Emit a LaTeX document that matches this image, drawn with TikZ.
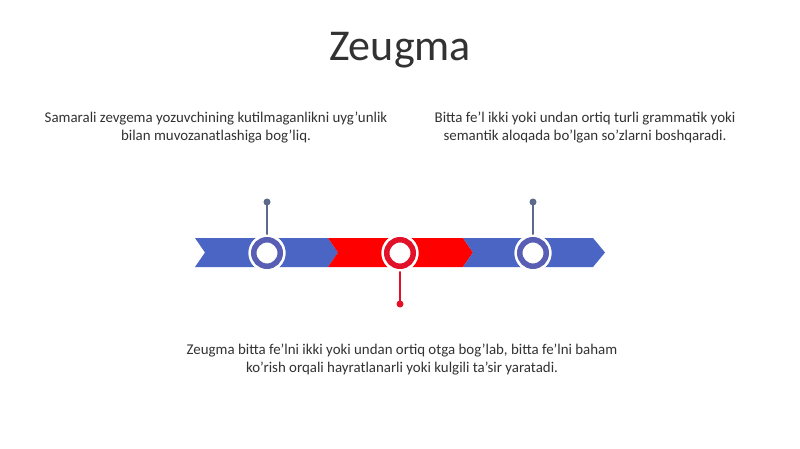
\documentclass[tikz,border=0pt]{standalone}
\usepackage{fontspec}
\setmainfont{Carlito}
\definecolor{bandblue}{RGB}{74,101,196}
\definecolor{ringblue}{RGB}{88,94,180}
\definecolor{pinblue}{RGB}{92,106,140}
\definecolor{bandred}{RGB}{255,0,0}
\definecolor{ringred}{RGB}{226,16,40}
\definecolor{txt}{RGB}{50,50,50}
\begin{document}
\begin{tikzpicture}[x=1pt,y=-1pt,
  halo/.style={circle,fill=white,minimum size=37pt,inner sep=0pt},
  ringnode/.style={circle,draw=#1,line width=5.5pt,fill=white,minimum size=26.5pt,inner sep=0pt},
  pindot/.style={circle,fill=#1,minimum size=7pt,inner sep=0pt},
  pinline/.style={draw=#1,line width=1.2pt},
  bodytext/.style={align=center,inner sep=0pt,text=txt,font=\fontsize{14.9}{18}\selectfont},
  titletext/.style={inner sep=0pt,text=txt,font=\fontsize{44}{50}\selectfont}]
\useasboundingbox[fill=white] (0,0) rectangle (800,449);
% title
\node[titletext,anchor=base] (title) at (400,61) {Zeugma};
% band segments
\fill[bandblue] (195,238) -- (328,238) -- (338,252.5) -- (328,267) -- (195,267) -- (205,252.5) -- cycle;
\fill[bandred] (328,238) -- (463,238) -- (473,252.5) -- (463,267) -- (328,267) -- (338,252.5) -- cycle;
\fill[bandblue] (463,238) -- (593,238) -- (605,252.5) -- (593,267) -- (463,267) -- (473,252.5) -- cycle;
% pins
\node[pindot=pinblue] (d1) at (267,202) {};
\node[pindot=ringred] (d2) at (400,304) {};
\node[pindot=pinblue] (d3) at (533,202) {};
\node[halo] (h1) at (267,253) {};
\node[halo] (h2) at (400,253) {};
\node[halo] (h3) at (533,253) {};
\draw[pinline=pinblue] (d1.center) -- (h1.center);
\draw[pinline=ringred] (d2.center) -- (h2.center);
\draw[pinline=pinblue] (d3.center) -- (h3.center);
\node[halo] at (h1) {};
\node[halo] at (h2) {};
\node[halo] at (h3) {};
\node[ringnode=ringblue] (c1) at (h1) {};
\node[ringnode=ringred] (c2) at (h2) {};
\node[ringnode=ringblue] (c3) at (h3) {};
% texts
\node[bodytext,anchor=north] (t1) at (216,112) {Samarali zevgema yozuvchining kutilmaganlikni uyg'unlik\\bilan muvozanatlashiga bog'liq.};
\node[bodytext,anchor=north] (t2) at (585,112) {Bitta fe'l ikki yoki undan ortiq turli grammatik yoki\\semantik aloqada bo'lgan so'zlarni boshqaradi.};
\node[bodytext,anchor=north] (t3) at (402,344) {Zeugma bitta fe'lni ikki yoki undan ortiq otga bog'lab, bitta fe'lni baham\\ko'rish orqali hayratlanarli yoki kulgili ta'sir yaratadi.};
\end{tikzpicture}
\end{document}
